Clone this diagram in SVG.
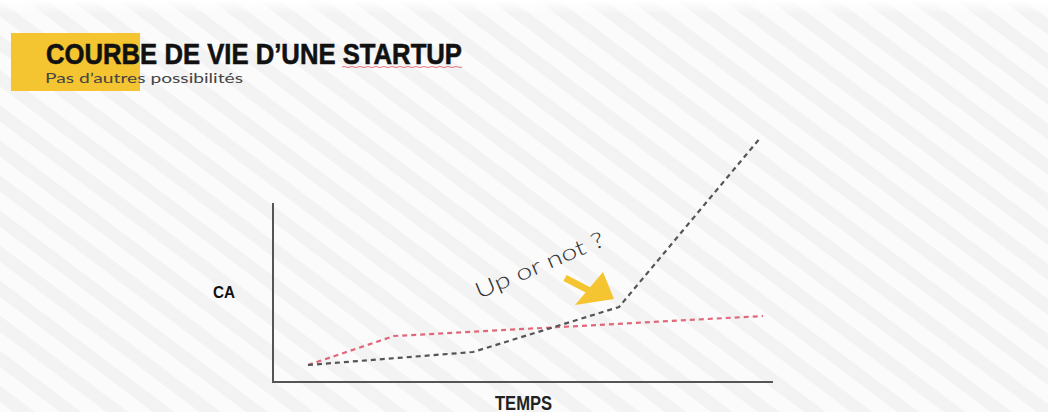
<svg xmlns="http://www.w3.org/2000/svg" width="1048" height="412" viewBox="0 0 1048 412">
<defs>
<pattern id="stripes" patternUnits="userSpaceOnUse" width="28" height="28" patternTransform="rotate(37)">
<rect width="28" height="28" fill="#fbfbfb"/>
<rect width="28" height="13" fill="#f3f3f3"/>
</pattern>
<linearGradient id="topfade" x1="0" y1="0" x2="0" y2="1">
<stop offset="0" stop-color="#ffffff" stop-opacity="1"/>
<stop offset="1" stop-color="#ffffff" stop-opacity="0"/>
</linearGradient>
<style>
.axis{stroke:#555;stroke-width:2;fill:none}
.dash{fill:none;stroke-width:2.2;stroke-dasharray:5 4}
.dark{stroke:#555}
.red{stroke:#e0687a}
.cond{font-family:"Liberation Sans",Arial,sans-serif;font-weight:bold;fill:#111}
.light{font-family:Lato,"Noto Sans",sans-serif;font-weight:300;fill:#333}
</style>
</defs>
<rect width="1048" height="412" fill="url(#stripes)"/>
<rect width="1048" height="14" fill="url(#topfade)"/>
<g id="header">
<rect x="11" y="33" width="129" height="58" fill="#f5c531"/>
<text class="cond" x="46" y="64" font-size="29" textLength="416" lengthAdjust="spacingAndGlyphs" stroke="#111" stroke-width="0.6">COURBE DE VIE D’UNE STARTUP</text>
<path d="M342 67 q2 -1 4 0 t4 0 t4 0 t4 0 t4 0 t4 0 t4 0 t4 0 t4 0 t4 0 t4 0 t4 0 t4 0 t4 0 t4 0 t4 0 t4 0 t4 0 t4 0 t4 0 t4 0 t4 0 t4 0 t4 0 t4 0 t4 0 t4 0 t4 0 t4 0 t4 0" fill="none" stroke="#e05060" stroke-width="0.8"/>
<text class="light" x="45" y="83" font-size="12.5" textLength="198" lengthAdjust="spacingAndGlyphs" style="fill:#444;font-weight:400">Pas d’autres possibilités</text>
</g>
<g id="axes">
<polyline class="axis" points="273,203 273,382 773,382"/>
</g>
<g id="label-ca"><text class="cond" x="213" y="298" font-size="17" textLength="22" lengthAdjust="spacingAndGlyphs">CA</text></g>
<g id="label-temps"><text class="cond" x="495" y="410" font-size="20" textLength="57" lengthAdjust="spacingAndGlyphs" style="fill:#222">TEMPS</text></g>
<g id="connectors">
<polyline class="dash red" points="308,365 394,336 763,316"/>
<polyline class="dash dark" points="308,365 473,352 619,307 761,137"/>
</g>
<g id="annotation">
<text class="light" x="0" y="0" font-size="22" transform="translate(479,299) rotate(-23)" textLength="138" lengthAdjust="spacingAndGlyphs">Up or not ?</text>
<line x1="565" y1="278" x2="592" y2="292" stroke="#f5c531" stroke-width="7"/>
<polygon points="603,272 575,305 614,299" fill="#f5c531"/>
</g>
</svg>
